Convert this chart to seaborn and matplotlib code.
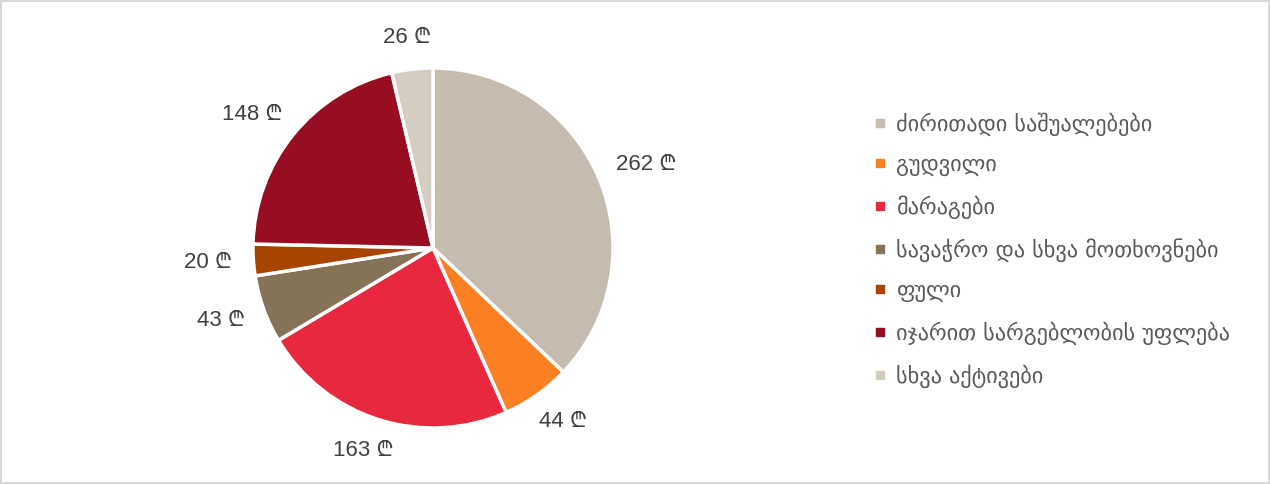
import numpy as np
import matplotlib.pyplot as plt
import seaborn as sns
from matplotlib.lines import Line2D

# Data
categories = [
    "ძირითადი საშუალებები",
    "გუდვილი",
    "მარაგები",
    "სავაჭრო და სხვა მოთხოვნები",
    "ფული",
    "იჯარით სარგებლობის უფლება",
    "სხვა აქტივები",
]
values = [262, 44, 163, 43, 20, 148, 26]
colors = ["#C5BCAF", "#FD7F23", "#E8283F", "#857357", "#A94400", "#970E22", "#D5CCC2"]

sns.set_theme(style="white")
plt.rcParams['font.family'] = ['Liberation Sans', 'DejaVu Sans', 'Noto Sans']

fig = plt.figure(figsize=(12.7, 4.84), dpi=100)
fig.patch.set_edgecolor("#D9D9D9")
fig.patch.set_linewidth(1.5)

# pie center ~ (433, 248) px, radius ~180 px
R = 180
ax = fig.add_axes([(433 - R) / 1270, (484 - 248 - R) / 484, 2 * R / 1270, 2 * R / 484])

palette = sns.color_palette(colors)
wedges, _ = ax.pie(values, colors=palette, startangle=90, counterclock=False,
                   radius=1, wedgeprops=dict(edgecolor="white", linewidth=2.5))
ax.set_xlim(-1, 1)
ax.set_ylim(-1, 1)
ax.set_aspect("equal")

# data labels outside end: box pushed out along the slice direction
labels = []
for w, v in zip(wedges, values):
    t = ax.text(0, 0, f"{v} ₾", ha="center", va="center", fontsize=16,
                color="#404040", clip_on=False)
    labels.append(t)
fig.canvas.draw()
renderer = fig.canvas.get_renderer()
d = 1.12
for w, t in zip(wedges, labels):
    ang = np.deg2rad((w.theta1 + w.theta2) / 2)
    cx, cy = np.cos(ang), np.sin(ang)
    bb = t.get_window_extent(renderer)
    hw = bb.width / 2 / R
    hh = bb.height / 2 / R
    t.set_position((d * cx + hw * cx, d * cy + hh * cy))

handles = [Line2D([0], [0], marker="s", linestyle="", markersize=6,
                  markerfacecolor=c, markeredgecolor=c) for c in colors]
leg = fig.legend(handles, categories, loc="center left",
                 bbox_to_anchor=(862 / 1270, 1 - 250 / 484), frameon=False,
                 fontsize=16, labelspacing=0.87, handlelength=0.6,
                 handletextpad=0.45, borderpad=0)
for t in leg.get_texts():
    t.set_color("#595959")
    t.set_family(['DejaVu Sans', 'Noto Sans'])

fig.savefig("out.png", dpi=100, edgecolor=fig.get_edgecolor())
